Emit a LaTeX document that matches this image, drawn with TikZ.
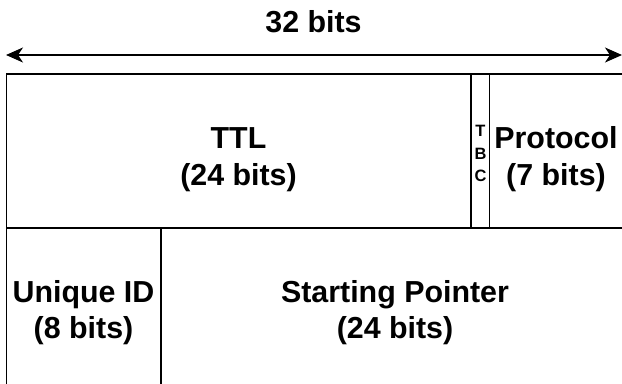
\documentclass[tikz,border=0pt]{standalone}
\usepackage{fontspec}
\setmainfont{Liberation Sans}
\usetikzlibrary{arrows.meta}
\begin{document}
\begin{tikzpicture}[x=1bp,y=-1bp,
  field/.style={draw=black,line width=1.5bp},
  lbl/.style={font=\bfseries\fontsize{30.5}{36}\selectfont,inner sep=0pt,anchor=base},
  tiny/.style={font=\bfseries\fontsize{16.5}{19}\selectfont,inner sep=0pt,anchor=center}]
\useasboundingbox (0,0) rectangle (622,383);
\clip (0,0) rectangle (622,383);
% fields
\draw[field] (6.5,74) rectangle (471,228);
\draw[field] (471,74) rectangle (489.5,228);
\draw[field] (489.5,74) rectangle (626,228);
\draw[field] (6.5,228) rectangle (161,388);
\draw[field] (161,228) rectangle (626,388);
% width arrow
\coordinate (aL) at (6,55);
\coordinate (aR) at (622,55);
\draw[line width=1.5bp,{Stealth[length=17bp,width=15bp,inset=5bp]}-{Stealth[length=17bp,width=15bp,inset=5bp]}] (aL) -- (aR);
\node[lbl] (w) at (313.5,32) {32 bits};
% labels
\node[lbl] (ttl) at (238.5,148) {TTL};
\node[lbl] (ttlb) at (238.5,185) {(24 bits)};
\node[tiny] (t1) at (480.5,131) {T};
\node[tiny] (t2) at (480.5,153.5) {B};
\node[tiny] (t3) at (480.5,176) {C};
\node[lbl] (pr) at (556,148) {Protocol};
\node[lbl] (prb) at (556,185) {(7 bits)};
\node[lbl] (uid) at (83.5,302) {Unique ID};
\node[lbl] (uidb) at (83.5,338) {(8 bits)};
\node[lbl] (sp) at (395,302) {Starting Pointer};
\node[lbl] (spb) at (395,338) {(24 bits)};
\end{tikzpicture}
\end{document}
